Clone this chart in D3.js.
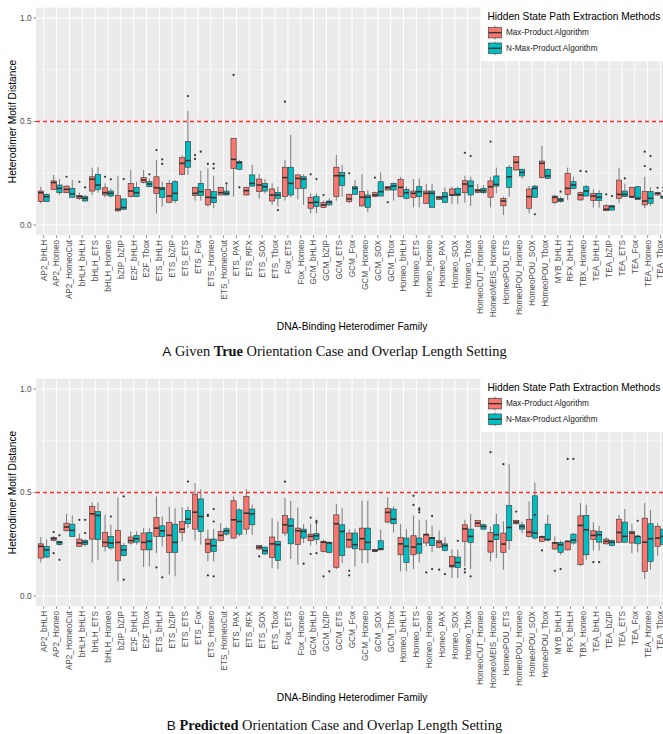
<!DOCTYPE html>
<html>
<head>
<meta charset="utf-8">
<script src="https://cdn.jsdelivr.net/npm/d3@7"></script>
<style>
  body { margin: 0; background: #ffffff; }
  svg { display: block; }
</style>
</head>
<body>
<svg id="chart" width="663" height="734"></svg>
<script>
// Heterodimer families on the x axis
const categories = [
  "AP2_bHLH", "AP2_Homeo", "AP2_HomeoCut", "bHLH_bHLH", "bHLH_ETS", "bHLH_Homeo",
  "bZIP_bZIP", "E2F_bHLH", "E2F_Tbox", "ETS_bHLH", "ETS_bZIP", "ETS_ETS", "ETS_Fox",
  "ETS_Homeo", "ETS_HomeoCut", "ETS_PAX", "ETS_RFX", "ETS_SOX", "ETS_Tbox", "Fox_ETS",
  "Fox_Homeo", "GCM_bHLH", "GCM_bZIP", "GCM_ETS", "GCM_Fox", "GCM_Homeo", "GCM_SOX",
  "GCM_Tbox", "Homeo_bHLH", "Homeo_ETS", "Homeo_Homeo", "Homeo_PAX", "Homeo_SOX",
  "Homeo_Tbox", "HomeoCUT_Homeo", "HomeoMEIS_Homeo", "HomeoPOU_ETS", "HomeoPOU_Homeo",
  "HomeoPOU_SOX", "HomeoPOU_Tbox", "MYB_bHLH", "RFX_bHLH", "TBX_Homeo", "TEA_bHLH",
  "TEA_bZIP", "TEA_ETS", "TEA_Fox", "TEA_Homeo", "TEA_Tbox"
];

const yTicks = [0, 0.5, 1.0];
const yMinorTicks = [0.25, 0.75];
const threshold = 0.5;

const methods = ["Max-Product Algorithm", "N-Max-Product Algorithm"];
const methodColors = ["#F8766D", "#00BFC4"];

// Box statistics per family: [lower whisker, Q1, median, Q3, upper whisker]
// Panel A: given true orientation case and overlap length
const trueMaxProduct = [
  [0.105, 0.113, 0.156, 0.164, 0.185], [0.169, 0.172, 0.205, 0.213, 0.242],
  [0.153, 0.156, 0.172, 0.188, 0.192], [0.121, 0.127, 0.137, 0.143, 0.156],
  [0.145, 0.164, 0.221, 0.233, 0.277], [0.134, 0.145, 0.156, 0.180, 0.201],
  [0.064, 0.068, 0.076, 0.142, 0.237], [0.134, 0.137, 0.164, 0.201, 0.266],
  [0.201, 0.205, 0.217, 0.229, 0.266], [0.056, 0.153, 0.180, 0.233, 0.314],
  [0.105, 0.110, 0.140, 0.201, 0.217], [0.242, 0.245, 0.298, 0.325, 0.338],
  [0.118, 0.142, 0.153, 0.182, 0.185], [0.089, 0.097, 0.134, 0.172, 0.274],
  [0.142, 0.145, 0.156, 0.182, 0.185], [0.137, 0.274, 0.317, 0.419, 0.419],
  [0.142, 0.145, 0.166, 0.182, 0.185], [0.129, 0.161, 0.193, 0.222, 0.246],
  [0.097, 0.116, 0.145, 0.174, 0.201], [0.118, 0.137, 0.229, 0.279, 0.314],
  [0.124, 0.177, 0.225, 0.242, 0.245], [0.056, 0.081, 0.108, 0.134, 0.153],
  [0.084, 0.085, 0.097, 0.108, 0.118], [0.118, 0.137, 0.238, 0.279, 0.338],
  [0.105, 0.113, 0.126, 0.148, 0.153], [0.089, 0.092, 0.134, 0.161, 0.246],
  [0.134, 0.137, 0.145, 0.156, 0.161], [0.166, 0.169, 0.180, 0.185, 0.188],
  [0.134, 0.137, 0.182, 0.221, 0.233], [0.085, 0.132, 0.153, 0.164, 0.222],
  [0.101, 0.105, 0.153, 0.164, 0.198], [0.121, 0.124, 0.132, 0.137, 0.140],
  [0.101, 0.142, 0.145, 0.174, 0.185], [0.108, 0.156, 0.198, 0.214, 0.238],
  [0.153, 0.158, 0.166, 0.172, 0.198], [0.085, 0.134, 0.185, 0.213, 0.233],
  [0.048, 0.093, 0.116, 0.129, 0.137], [0.262, 0.266, 0.303, 0.330, 0.333],
  [0.056, 0.081, 0.137, 0.174, 0.188], [0.225, 0.229, 0.298, 0.309, 0.382],
  [0.101, 0.108, 0.134, 0.140, 0.145], [0.121, 0.148, 0.177, 0.250, 0.277],
  [0.118, 0.121, 0.145, 0.156, 0.161], [0.084, 0.118, 0.140, 0.153, 0.172],
  [0.068, 0.069, 0.076, 0.093, 0.101], [0.105, 0.129, 0.148, 0.217, 0.277],
  [0.129, 0.134, 0.137, 0.182, 0.185], [0.081, 0.097, 0.116, 0.161, 0.233],
  [0.142, 0.145, 0.153, 0.156, 0.161]
];

const trueNMaxProduct = [
  [0.110, 0.113, 0.137, 0.148, 0.153], [0.145, 0.156, 0.177, 0.193, 0.222],
  [0.132, 0.134, 0.150, 0.177, 0.217], [0.113, 0.116, 0.129, 0.137, 0.145],
  [0.156, 0.172, 0.193, 0.245, 0.279], [0.134, 0.140, 0.153, 0.164, 0.177],
  [0.074, 0.076, 0.084, 0.126, 0.126], [0.134, 0.137, 0.156, 0.182, 0.209],
  [0.182, 0.185, 0.198, 0.209, 0.225], [0.089, 0.134, 0.174, 0.182, 0.209],
  [0.105, 0.118, 0.153, 0.209, 0.217], [0.242, 0.279, 0.311, 0.403, 0.551],
  [0.118, 0.142, 0.161, 0.201, 0.262], [0.081, 0.108, 0.132, 0.161, 0.238],
  [0.142, 0.145, 0.153, 0.164, 0.196], [0.266, 0.269, 0.301, 0.307, 0.315],
  [0.185, 0.188, 0.201, 0.242, 0.290], [0.153, 0.164, 0.185, 0.201, 0.222],
  [0.089, 0.129, 0.145, 0.158, 0.185], [0.134, 0.145, 0.201, 0.279, 0.435],
  [0.097, 0.177, 0.222, 0.233, 0.245], [0.056, 0.089, 0.110, 0.137, 0.153],
  [0.092, 0.097, 0.110, 0.116, 0.129], [0.137, 0.190, 0.238, 0.254, 0.290],
  [0.145, 0.148, 0.177, 0.185, 0.217], [0.061, 0.085, 0.134, 0.145, 0.169],
  [0.137, 0.140, 0.161, 0.209, 0.254], [0.118, 0.169, 0.188, 0.201, 0.206],
  [0.124, 0.129, 0.156, 0.172, 0.185], [0.085, 0.137, 0.161, 0.185, 0.225],
  [0.085, 0.085, 0.153, 0.164, 0.198], [0.108, 0.108, 0.137, 0.156, 0.182],
  [0.101, 0.142, 0.148, 0.177, 0.185], [0.092, 0.145, 0.188, 0.213, 0.233],
  [0.150, 0.156, 0.166, 0.177, 0.193], [0.153, 0.188, 0.196, 0.237, 0.277],
  [0.137, 0.182, 0.233, 0.279, 0.290], [0.225, 0.237, 0.254, 0.269, 0.274],
  [0.134, 0.134, 0.177, 0.188, 0.193], [0.222, 0.225, 0.237, 0.269, 0.274],
  [0.108, 0.113, 0.121, 0.129, 0.137], [0.172, 0.177, 0.193, 0.209, 0.233],
  [0.137, 0.140, 0.164, 0.185, 0.193], [0.084, 0.118, 0.134, 0.153, 0.169],
  [0.072, 0.072, 0.089, 0.093, 0.097], [0.134, 0.137, 0.148, 0.164, 0.200],
  [0.124, 0.124, 0.129, 0.185, 0.188], [0.092, 0.105, 0.129, 0.161, 0.182],
  [0.124, 0.129, 0.137, 0.140, 0.145]
];

// Panel B: predicted orientation case and overlap length
const predMaxProduct = [
  [0.162, 0.183, 0.240, 0.252, 0.285], [0.265, 0.268, 0.277, 0.283, 0.290],
  [0.312, 0.315, 0.333, 0.352, 0.397], [0.238, 0.240, 0.256, 0.275, 0.301],
  [0.162, 0.275, 0.397, 0.432, 0.452], [0.215, 0.240, 0.259, 0.307, 0.392],
  [0.071, 0.170, 0.259, 0.317, 0.477], [0.248, 0.256, 0.268, 0.285, 0.312],
  [0.140, 0.223, 0.259, 0.304, 0.328], [0.207, 0.288, 0.328, 0.379, 0.481],
  [0.103, 0.211, 0.293, 0.355, 0.432], [0.264, 0.307, 0.323, 0.360, 0.429],
  [0.268, 0.323, 0.405, 0.492, 0.545], [0.167, 0.211, 0.252, 0.275, 0.320],
  [0.264, 0.267, 0.293, 0.312, 0.352], [0.275, 0.280, 0.368, 0.460, 0.481],
  [0.296, 0.323, 0.400, 0.481, 0.516], [0.223, 0.227, 0.236, 0.243, 0.246],
  [0.135, 0.186, 0.252, 0.285, 0.376], [0.291, 0.304, 0.344, 0.389, 0.473],
  [0.151, 0.248, 0.315, 0.328, 0.428], [0.244, 0.267, 0.288, 0.299, 0.349],
  [0.210, 0.215, 0.260, 0.264, 0.272], [0.130, 0.138, 0.349, 0.392, 0.444],
  [0.231, 0.236, 0.272, 0.304, 0.323], [0.159, 0.223, 0.277, 0.328, 0.460],
  [0.212, 0.215, 0.219, 0.225, 0.228], [0.352, 0.357, 0.404, 0.424, 0.476],
  [0.119, 0.199, 0.252, 0.283, 0.347], [0.130, 0.199, 0.236, 0.291, 0.389],
  [0.240, 0.256, 0.296, 0.299, 0.368], [0.231, 0.236, 0.259, 0.267, 0.317],
  [0.087, 0.140, 0.146, 0.191, 0.225], [0.143, 0.264, 0.325, 0.344, 0.368],
  [0.333, 0.336, 0.352, 0.365, 0.368], [0.167, 0.212, 0.264, 0.307, 0.336],
  [0.127, 0.211, 0.251, 0.304, 0.360], [0.344, 0.349, 0.357, 0.365, 0.368],
  [0.283, 0.288, 0.309, 0.371, 0.457], [0.260, 0.264, 0.285, 0.288, 0.293],
  [0.223, 0.227, 0.256, 0.259, 0.288], [0.220, 0.223, 0.264, 0.264, 0.268],
  [0.146, 0.151, 0.341, 0.387, 0.449], [0.220, 0.272, 0.293, 0.315, 0.357],
  [0.248, 0.252, 0.264, 0.275, 0.285], [0.256, 0.259, 0.307, 0.371, 0.392],
  [0.207, 0.256, 0.304, 0.312, 0.349], [0.082, 0.119, 0.260, 0.376, 0.449],
  [0.195, 0.240, 0.280, 0.336, 0.352]
];

const predNMaxProduct = [
  [0.183, 0.188, 0.223, 0.240, 0.272], [0.244, 0.248, 0.259, 0.264, 0.268],
  [0.285, 0.288, 0.317, 0.347, 0.389], [0.240, 0.248, 0.259, 0.268, 0.275],
  [0.175, 0.272, 0.389, 0.408, 0.452], [0.223, 0.232, 0.256, 0.288, 0.344],
  [0.191, 0.195, 0.223, 0.244, 0.256], [0.248, 0.260, 0.277, 0.293, 0.312],
  [0.143, 0.223, 0.264, 0.307, 0.328], [0.240, 0.288, 0.315, 0.339, 0.384],
  [0.095, 0.211, 0.259, 0.347, 0.424], [0.328, 0.349, 0.371, 0.413, 0.432],
  [0.248, 0.312, 0.384, 0.469, 0.516], [0.167, 0.215, 0.243, 0.275, 0.323],
  [0.291, 0.299, 0.315, 0.325, 0.333], [0.288, 0.299, 0.360, 0.416, 0.424],
  [0.296, 0.344, 0.397, 0.420, 0.441], [0.199, 0.203, 0.219, 0.236, 0.240],
  [0.130, 0.172, 0.248, 0.264, 0.360], [0.178, 0.252, 0.339, 0.373, 0.460],
  [0.256, 0.280, 0.312, 0.323, 0.347], [0.248, 0.272, 0.291, 0.301, 0.360],
  [0.206, 0.211, 0.256, 0.259, 0.265], [0.159, 0.195, 0.312, 0.344, 0.424],
  [0.143, 0.228, 0.248, 0.304, 0.325], [0.159, 0.223, 0.259, 0.328, 0.460],
  [0.220, 0.223, 0.227, 0.267, 0.320], [0.307, 0.349, 0.371, 0.420, 0.432],
  [0.119, 0.162, 0.240, 0.280, 0.323], [0.162, 0.207, 0.251, 0.280, 0.368],
  [0.211, 0.243, 0.280, 0.283, 0.339], [0.215, 0.219, 0.243, 0.252, 0.285],
  [0.087, 0.137, 0.162, 0.188, 0.225], [0.130, 0.259, 0.288, 0.323, 0.397],
  [0.320, 0.323, 0.336, 0.344, 0.349], [0.183, 0.272, 0.296, 0.344, 0.397],
  [0.223, 0.267, 0.331, 0.437, 0.637], [0.304, 0.323, 0.336, 0.344, 0.360],
  [0.272, 0.280, 0.304, 0.484, 0.548], [0.264, 0.272, 0.272, 0.347, 0.392],
  [0.199, 0.211, 0.248, 0.259, 0.268], [0.248, 0.256, 0.270, 0.299, 0.304],
  [0.175, 0.199, 0.320, 0.389, 0.441], [0.220, 0.260, 0.296, 0.312, 0.339],
  [0.240, 0.244, 0.260, 0.268, 0.275], [0.256, 0.260, 0.288, 0.357, 0.420],
  [0.211, 0.252, 0.288, 0.288, 0.296], [0.127, 0.167, 0.277, 0.349, 0.416],
  [0.215, 0.248, 0.288, 0.323, 0.336]
];

// Outlying points: [family, distance]
const trueMaxOutliers = [
  ["AP2_HomeoCut", 0.233], ["bHLH_bHLH", 0.209], ["bHLH_Homeo", 0.233], ["ETS_bHLH", 0.362],
  ["ETS_Fox", 0.338], ["ETS_Fox", 0.319], ["ETS_Homeo", 0.295], ["ETS_PAX", 0.725],
  ["Fox_ETS", 0.596], ["GCM_bHLH", 0.245], ["GCM_bZIP", 0.145], ["GCM_Fox", 0.250],
  ["GCM_SOX", 0.229], ["GCM_Tbox", 0.110], ["Homeo_Tbox", 0.349], ["HomeoMEIS_Homeo", 0.403],
  ["TBX_Homeo", 0.261], ["TEA_bZIP", 0.148], ["TEA_Homeo", 0.354], ["TEA_Homeo", 0.285],
  ["TEA_Tbox", 0.180]
];
const trueNMaxOutliers = [
  ["bHLH_bHLH", 0.182], ["bHLH_Homeo", 0.221], ["bZIP_bZIP", 0.222], ["E2F_Tbox", 0.245],
  ["ETS_bHLH", 0.317], ["ETS_bHLH", 0.295], ["ETS_ETS", 0.623], ["ETS_Fox", 0.354],
  ["ETS_Homeo", 0.295], ["ETS_Homeo", 0.274], ["ETS_HomeoCut", 0.201], ["ETS_PAX", 0.182],
  ["ETS_Tbox", 0.072], ["GCM_bHLH", 0.222], ["Homeo_Tbox", 0.333], ["HomeoPOU_SOX", 0.052],
  ["MYB_bHLH", 0.161], ["TBX_Homeo", 0.258], ["TEA_bZIP", 0.140], ["TEA_ETS", 0.225],
  ["TEA_Homeo", 0.333], ["TEA_Homeo", 0.269], ["TEA_Tbox", 0.182], ["TEA_Tbox", 0.164]
];
const predMaxOutliers = [
  ["AP2_Homeo", 0.309], ["AP2_Homeo", 0.207], ["bHLH_bHLH", 0.368], ["ETS_bHLH", 0.138],
  ["ETS_Homeo", 0.392], ["ETS_Homeo", 0.387], ["ETS_Homeo", 0.100], ["ETS_SOX", 0.191],
  ["Fox_ETS", 0.553], ["GCM_bHLH", 0.379], ["GCM_bHLH", 0.203], ["GCM_bZIP", 0.095],
  ["GCM_Fox", 0.122], ["GCM_Fox", 0.100], ["Homeo_ETS", 0.484], ["Homeo_ETS", 0.440],
  ["Homeo_Homeo", 0.114], ["Homeo_PAX", 0.127], ["Homeo_Tbox", 0.130], ["Homeo_Tbox", 0.114],
  ["HomeoMEIS_Homeo", 0.695], ["HomeoPOU_ETS", 0.637], ["HomeoPOU_Homeo", 0.408],
  ["HomeoPOU_Tbox", 0.220], ["MYB_bHLH", 0.122], ["RFX_bHLH", 0.662], ["TEA_bHLH", 0.164]
];
const predNMaxOutliers = [
  ["AP2_Homeo", 0.293], ["AP2_Homeo", 0.175], ["bHLH_bHLH", 0.368], ["bHLH_bHLH", 0.304],
  ["bHLH_Homeo", 0.384], ["bZIP_bZIP", 0.481], ["bZIP_bZIP", 0.079], ["ETS_bHLH", 0.090],
  ["ETS_ETS", 0.553], ["ETS_Homeo", 0.420], ["ETS_Homeo", 0.360], ["ETS_Homeo", 0.095],
  ["Fox_Homeo", 0.156], ["GCM_bHLH", 0.363], ["GCM_bHLH", 0.355], ["GCM_bHLH", 0.207],
  ["GCM_bZIP", 0.119], ["Homeo_ETS", 0.424], ["Homeo_ETS", 0.416], ["Homeo_ETS", 0.404],
  ["Homeo_Homeo", 0.387], ["Homeo_Homeo", 0.130], ["Homeo_PAX", 0.106], ["Homeo_SOX", 0.267],
  ["Homeo_Tbox", 0.095], ["HomeoPOU_SOX", 0.392], ["MYB_bHLH", 0.130], ["RFX_bHLH", 0.662],
  ["TEA_bHLH", 0.164], ["TEA_Fox", 0.363]
];

const svg = d3.select("#chart");
const sans = "'Liberation Sans', Arial, Helvetica, sans-serif";
const serif = "'Liberation Serif', 'Times New Roman', Times, serif";

// Shared horizontal layout: the panel runs past the right edge of the page
const panelLeft = 36;
const panelRight = 668.2;
const x = d3.scalePoint().domain(categories).range([panelLeft, panelRight]).padding(0.6);
const step = x.step();
const boxW = step * 0.41;
const dodge = step * 0.225;

function drawPanel(opt) {
  const g = svg.append("g");
  const y = d3.scaleLinear().domain([0, 1]).range([opt.y0, opt.y1]);
  const pTop = y(1.05), pBot = y(-0.05);

  // panel background + grid
  g.append("rect").attr("x", panelLeft).attr("y", pTop)
    .attr("width", panelRight - panelLeft).attr("height", pBot - pTop)
    .attr("fill", "#EBEBEB");
  g.selectAll(".ymin").data(yMinorTicks).join("line")
    .attr("x1", panelLeft).attr("x2", panelRight)
    .attr("y1", d => y(d)).attr("y2", d => y(d))
    .attr("stroke", "#ffffff").attr("stroke-width", 0.5);
  g.selectAll(".ymaj").data(yTicks).join("line")
    .attr("x1", panelLeft).attr("x2", panelRight)
    .attr("y1", d => y(d)).attr("y2", d => y(d))
    .attr("stroke", "#ffffff").attr("stroke-width", 1);
  g.selectAll(".xmaj").data(categories).join("line")
    .attr("x1", d => x(d)).attr("x2", d => x(d))
    .attr("y1", pTop).attr("y2", pBot)
    .attr("stroke", "#ffffff").attr("stroke-width", 1);

  // boxplots
  opt.series.forEach((s, si) => {
    const dx = si === 0 ? -dodge : dodge;
    const sg = g.append("g");
    const items = s.stats.map((st, i) => ({ cat: categories[i], st }));
    const cx = d => x(d.cat) + dx;
    sg.selectAll(".wu").data(items).join("line")
      .attr("x1", cx).attr("x2", cx)
      .attr("y1", d => y(d.st[4])).attr("y2", d => y(d.st[3]))
      .attr("stroke", "#333333").attr("stroke-width", 0.6);
    sg.selectAll(".wl").data(items).join("line")
      .attr("x1", cx).attr("x2", cx)
      .attr("y1", d => y(d.st[1])).attr("y2", d => y(d.st[0]))
      .attr("stroke", "#333333").attr("stroke-width", 0.6);
    sg.selectAll(".bx").data(items).join("rect")
      .attr("x", d => cx(d) - boxW / 2).attr("width", boxW)
      .attr("y", d => y(d.st[3])).attr("height", d => Math.max(0.6, y(d.st[1]) - y(d.st[3])))
      .attr("fill", s.color).attr("stroke", "#333333").attr("stroke-width", 0.6);
    sg.selectAll(".md").data(items).join("line")
      .attr("x1", d => cx(d) - boxW / 2).attr("x2", d => cx(d) + boxW / 2)
      .attr("y1", d => y(d.st[2])).attr("y2", d => y(d.st[2]))
      .attr("stroke", "#333333").attr("stroke-width", 1.6);
    sg.selectAll(".ol").data(s.outliers).join("circle")
      .attr("cx", d => x(d[0]) + dx).attr("cy", d => y(d[1]))
      .attr("r", 1.1).attr("fill", "#333333");
  });

  // threshold line
  g.append("line")
    .attr("x1", panelLeft).attr("x2", panelRight)
    .attr("y1", y(threshold)).attr("y2", y(threshold))
    .attr("stroke", "#FF2B2B").attr("stroke-width", 1.4)
    .attr("stroke-dasharray", "4,3");

  // y axis
  const yAxis = g.append("g");
  yAxis.selectAll("line").data(yTicks).join("line")
    .attr("x1", panelLeft - 2.5).attr("x2", panelLeft)
    .attr("y1", d => y(d)).attr("y2", d => y(d))
    .attr("stroke", "#333333").attr("stroke-width", 0.6);
  yAxis.selectAll("text").data(yTicks).join("text")
    .attr("x", panelLeft - 4.5).attr("y", d => y(d)).attr("dy", "0.34em")
    .attr("text-anchor", "end").attr("font-family", sans).attr("font-size", 8.2)
    .attr("fill", "#4D4D4D").text(d => d.toFixed(1));

  // x axis
  const xAxis = g.append("g");
  xAxis.selectAll("line").data(categories).join("line")
    .attr("x1", d => x(d)).attr("x2", d => x(d))
    .attr("y1", pBot).attr("y2", pBot + 2.5)
    .attr("stroke", "#333333").attr("stroke-width", 0.6);
  xAxis.selectAll("text").data(categories).join("text")
    .attr("transform", d => `translate(${x(d) + 2.9},${pBot + 4.6}) rotate(-90)`)
    .attr("text-anchor", "end").attr("font-family", sans).attr("font-size", 8.2)
    .attr("fill", "#4D4D4D").text(d => d);

  // axis titles
  g.append("text")
    .attr("x", (panelLeft + panelRight) / 2).attr("y", opt.xTitleY)
    .attr("text-anchor", "middle").attr("font-family", sans).attr("font-size", 10.2)
    .attr("fill", "#000000").text("DNA-Binding Heterodimer Family");
  g.append("text")
    .attr("transform", `translate(15.5,${(pTop + pBot) / 2}) rotate(-90)`)
    .attr("text-anchor", "middle").attr("font-family", sans).attr("font-size", 10.2)
    .attr("fill", "#000000").text("Heterodimer Motif Distance");

  // legend
  const lg = g.append("g").attr("transform", `translate(481.5,${pTop - 0.5})`);
  lg.append("rect").attr("x", 0).attr("y", 0).attr("width", 200).attr("height", 54)
    .attr("fill", "#ffffff");
  lg.append("text").attr("x", 6).attr("y", 12.5)
    .attr("font-family", sans).attr("font-size", 10.2).attr("fill", "#000000")
    .text("Hidden State Path Extraction Methods");
  methods.forEach((m, i) => {
    const ky = 18 + i * 15.6;
    const kx = 6, kw = 15, kh = 15;
    const k = lg.append("g");
    k.append("rect").attr("x", kx).attr("y", ky).attr("width", kw).attr("height", kh)
      .attr("fill", "#F2F2F2");
    k.append("line").attr("x1", kx + kw / 2).attr("x2", kx + kw / 2)
      .attr("y1", ky + kh * 0.05).attr("y2", ky + kh * 0.95)
      .attr("stroke", "#333333").attr("stroke-width", 0.6);
    k.append("rect").attr("x", kx + kw * 0.07).attr("y", ky + kh * 0.15)
      .attr("width", kw * 0.86).attr("height", kh * 0.7)
      .attr("fill", methodColors[i]).attr("stroke", "#333333").attr("stroke-width", 0.6);
    k.append("line").attr("x1", kx + kw * 0.07).attr("x2", kx + kw * 0.93)
      .attr("y1", ky + kh / 2).attr("y2", ky + kh / 2)
      .attr("stroke", "#333333").attr("stroke-width", 1.4);
    lg.append("text").attr("x", kx + kw + 3.5).attr("y", ky + kh / 2).attr("dy", "0.34em")
      .attr("font-family", sans).attr("font-size", 8.2).attr("fill", "#1A1A1A").text(m);
  });

  // caption
  const cap = svg.append("text")
    .attr("x", 334.5).attr("y", opt.captionY)
    .attr("text-anchor", "middle").attr("font-size", 14.4).attr("fill", "#111111");
  cap.append("tspan").attr("font-family", sans).attr("font-size", 13.6).text(opt.letter);
  cap.append("tspan").attr("font-family", serif).text(" " + opt.captionPre + " ");
  cap.append("tspan").attr("font-family", serif).attr("font-weight", "bold").text(opt.captionBold);
  cap.append("tspan").attr("font-family", serif).text(" " + opt.captionPost);
}

drawPanel({
  y0: 225, y1: 18, xTitleY: 330, captionY: 356,
  letter: "A", captionPre: "Given", captionBold: "True",
  captionPost: "Orientation Case and Overlap Length Setting",
  series: [
    { color: methodColors[0], stats: trueMaxProduct, outliers: trueMaxOutliers },
    { color: methodColors[1], stats: trueNMaxProduct, outliers: trueNMaxOutliers }
  ]
});

drawPanel({
  y0: 596, y1: 389, xTitleY: 701, captionY: 729.5,
  letter: "B", captionPre: "", captionBold: "Predicted",
  captionPost: "Orientation Case and Overlap Length Setting",
  series: [
    { color: methodColors[0], stats: predMaxProduct, outliers: predMaxOutliers },
    { color: methodColors[1], stats: predNMaxProduct, outliers: predNMaxOutliers }
  ]
});
</script>
</body>
</html>
